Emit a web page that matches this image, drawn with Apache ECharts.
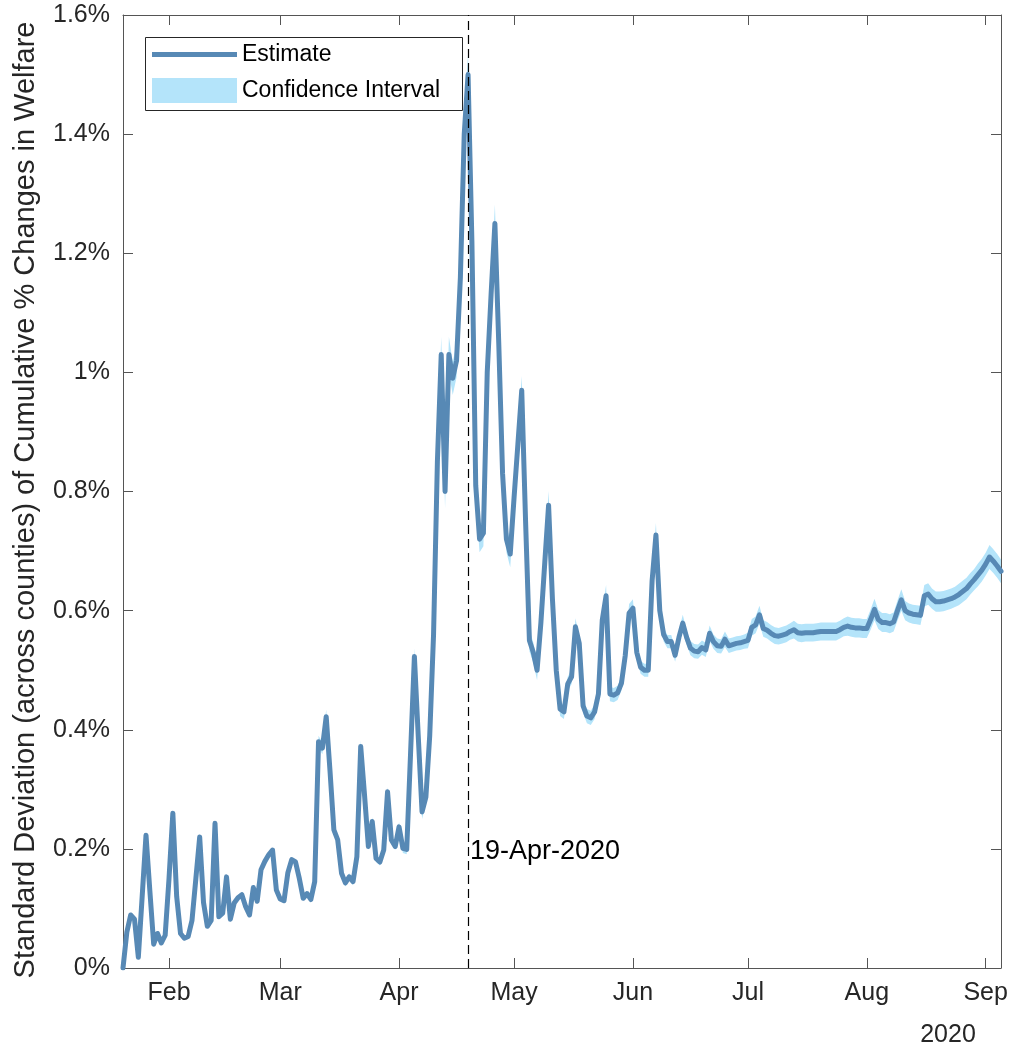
<!DOCTYPE html>
<html>
<head>
<meta charset="utf-8">
<title>Standard deviation of cumulative welfare changes</title>
<script src="https://cdn.jsdelivr.net/npm/echarts@6/dist/echarts.min.js"></script>
<style>
  html, body { margin: 0; padding: 0; background: #ffffff; }
  #chart { width: 1013px; height: 1052px; }
</style>
</head>
<body>
<div id="chart"></div>
<script>
// Daily observations start on this date (one value per day).
const startDate = [2020, 0, 20];

// Standard deviation across counties, in percent (daily, Jan 20 – Sep 5, 2020)
const estimate = [
  0.000, 0.060, 0.089, 0.082, 0.018, 0.120, 0.223, 0.130, 0.040, 0.058,
  0.042, 0.055, 0.150, 0.260, 0.120, 0.058, 0.050, 0.053, 0.080, 0.150,
  0.220, 0.110, 0.070, 0.080, 0.243, 0.086, 0.092, 0.153, 0.082, 0.109,
  0.118, 0.123, 0.103, 0.089, 0.135, 0.112, 0.165, 0.179, 0.190, 0.198,
  0.131, 0.116, 0.113, 0.160, 0.182, 0.178, 0.150, 0.117, 0.125, 0.115,
  0.145, 0.380, 0.369, 0.422, 0.330, 0.232, 0.215, 0.159, 0.143, 0.153,
  0.145, 0.187, 0.372, 0.290, 0.204, 0.246, 0.184, 0.178, 0.198, 0.296,
  0.215, 0.204, 0.237, 0.201, 0.199, 0.360, 0.523, 0.390, 0.262, 0.287,
  0.390, 0.560, 0.850, 1.030, 0.800, 1.030, 0.990, 1.020, 1.160, 1.400,
  1.500, 1.220, 0.810, 0.720, 0.730, 1.000, 1.130, 1.250, 1.050, 0.830,
  0.720, 0.695, 0.790, 0.880, 0.970, 0.750, 0.550, 0.530, 0.500, 0.580,
  0.680, 0.777, 0.620, 0.500, 0.435, 0.430, 0.477, 0.489, 0.573, 0.545,
  0.440, 0.423, 0.420, 0.430, 0.460, 0.584, 0.625, 0.460, 0.458, 0.462,
  0.478, 0.525, 0.596, 0.604, 0.530, 0.505, 0.500, 0.500, 0.650, 0.727,
  0.600, 0.560, 0.548, 0.548, 0.525, 0.555, 0.579, 0.555, 0.537, 0.532,
  0.531, 0.538, 0.534, 0.562, 0.548, 0.541, 0.540, 0.552, 0.541, 0.543,
  0.545, 0.546, 0.548, 0.550, 0.572, 0.576, 0.593, 0.570, 0.567, 0.562,
  0.558, 0.557, 0.559, 0.561, 0.565, 0.568, 0.563, 0.562, 0.563, 0.563,
  0.563, 0.564, 0.565, 0.565, 0.565, 0.565, 0.565, 0.568, 0.572, 0.574,
  0.572, 0.571, 0.571, 0.570, 0.570, 0.585, 0.602, 0.585, 0.580, 0.580,
  0.578, 0.581, 0.600, 0.618, 0.600, 0.596, 0.594, 0.593, 0.592, 0.625,
  0.628, 0.620, 0.615, 0.615, 0.616, 0.618, 0.620, 0.623, 0.627, 0.632,
  0.637, 0.645, 0.652, 0.660, 0.668, 0.678, 0.690, 0.683, 0.675, 0.666
];

// Half-width of the confidence interval, in percentage points (same days)
const ciHalf = [
  0.002, 0.002, 0.002, 0.002, 0.002, 0.002, 0.002, 0.002, 0.002, 0.002,
  0.002, 0.002, 0.003, 0.003, 0.003, 0.003, 0.003, 0.003, 0.003, 0.003,
  0.003, 0.003, 0.003, 0.003, 0.003, 0.003, 0.003, 0.003, 0.003, 0.003,
  0.003, 0.003, 0.003, 0.003, 0.003, 0.003, 0.003, 0.003, 0.003, 0.003,
  0.003, 0.004, 0.004, 0.004, 0.004, 0.004, 0.004, 0.004, 0.004, 0.004,
  0.004, 0.010, 0.010, 0.012, 0.008, 0.006, 0.006, 0.006, 0.006, 0.006,
  0.006, 0.006, 0.010, 0.007, 0.006, 0.007, 0.006, 0.006, 0.006, 0.008,
  0.006, 0.006, 0.008, 0.008, 0.008, 0.010, 0.014, 0.012, 0.012, 0.012,
  0.015, 0.018, 0.022, 0.030, 0.028, 0.030, 0.028, 0.028, 0.030, 0.032,
  0.035, 0.030, 0.025, 0.022, 0.022, 0.025, 0.028, 0.032, 0.028, 0.024,
  0.022, 0.022, 0.020, 0.020, 0.024, 0.020, 0.018, 0.017, 0.017, 0.018,
  0.020, 0.024, 0.018, 0.014, 0.012, 0.012, 0.012, 0.012, 0.014, 0.012,
  0.012, 0.012, 0.012, 0.012, 0.012, 0.016, 0.018, 0.012, 0.012, 0.012,
  0.012, 0.013, 0.015, 0.015, 0.012, 0.011, 0.011, 0.011, 0.016, 0.020,
  0.014, 0.012, 0.011, 0.011, 0.011, 0.012, 0.014, 0.012, 0.012, 0.012,
  0.012, 0.012, 0.012, 0.013, 0.012, 0.012, 0.012, 0.013, 0.012, 0.012,
  0.012, 0.012, 0.012, 0.013, 0.014, 0.014, 0.015, 0.014, 0.014, 0.014,
  0.014, 0.014, 0.014, 0.014, 0.014, 0.015, 0.015, 0.015, 0.015, 0.015,
  0.015, 0.015, 0.015, 0.015, 0.015, 0.015, 0.015, 0.015, 0.015, 0.016,
  0.016, 0.016, 0.016, 0.016, 0.016, 0.017, 0.018, 0.016, 0.016, 0.016,
  0.016, 0.016, 0.017, 0.018, 0.016, 0.016, 0.016, 0.016, 0.016, 0.018,
  0.018, 0.017, 0.017, 0.017, 0.017, 0.017, 0.017, 0.017, 0.018, 0.018,
  0.018, 0.018, 0.018, 0.019, 0.019, 0.019, 0.020, 0.020, 0.020, 0.020
];

// Axis ticks and annotations
const monthNames = ['Jan', 'Feb', 'Mar', 'Apr', 'May', 'Jun', 'Jul', 'Aug', 'Sep', 'Oct', 'Nov', 'Dec'];
const yTicks = { min: 0, max: 1.6, step: 0.2 };
const markerDate = '2020-04-19';
const markerLabel = '19-Apr-2020';
const yearLabel = '2020';
const yTitle = 'Standard Deviation (across counties) of Cumulative % Changes in Welfare';
const seriesNames = ['Estimate', 'Confidence Interval'];

// One ISO date per observation
const dates = estimate.map(function (_, i) {
  const d = new Date(Date.UTC(startDate[0], startDate[1], startDate[2] + i));
  return d.toISOString().slice(0, 10);
});
const ciLower = estimate.map(function (v, i) { return +(v - ciHalf[i]).toFixed(4); });
const ciSpan = ciHalf.map(function (h) { return +(2 * h).toFixed(4); });

const isMonthStart = function (idx, value) { return String(value).slice(8, 10) === '01'; };

const FONT = '"Liberation Sans", Arial, Helvetica, sans-serif';
const AXIS_COLOR = '#555555';
const TEXT_COLOR = '#262626';
const LINE_COLOR = '#5789B5';
const BAND_COLOR = '#B4E4FA';

const chart = echarts.init(document.getElementById('chart'), null, { renderer: 'canvas' });

chart.setOption({
  animation: false,
  backgroundColor: '#ffffff',
  grid: { left: 123, right: 12, top: 15, bottom: 84, containLabel: false },
  xAxis: [
    {
      type: 'category',
      data: dates,
      boundaryGap: false,
      axisLine: { show: true, onZero: false, lineStyle: { color: AXIS_COLOR, width: 1 } },
      axisTick: { show: true, inside: true, length: 10, interval: isMonthStart, lineStyle: { color: AXIS_COLOR } },
      axisLabel: {
        interval: isMonthStart,
        margin: 13,
        color: TEXT_COLOR,
        fontFamily: FONT,
        fontSize: 25,
        formatter: function (v) { return monthNames[parseInt(v.slice(5, 7), 10) - 1]; }
      },
      splitLine: { show: false }
    },
    {
      type: 'category',
      position: 'top',
      data: dates,
      boundaryGap: false,
      axisLine: { show: true, onZero: false, lineStyle: { color: AXIS_COLOR, width: 1 } },
      axisTick: { show: true, inside: true, length: 10, interval: isMonthStart, lineStyle: { color: AXIS_COLOR } },
      axisLabel: { show: false },
      splitLine: { show: false }
    }
  ],
  yAxis: [
    {
      type: 'value',
      min: yTicks.min,
      max: yTicks.max,
      interval: yTicks.step,
      axisLine: { show: true, onZero: false, lineStyle: { color: AXIS_COLOR, width: 1 } },
      axisTick: { show: true, inside: true, length: 10, lineStyle: { color: AXIS_COLOR } },
      axisLabel: {
        margin: 13,
        color: TEXT_COLOR,
        fontFamily: FONT,
        fontSize: 25,
        formatter: function (v) { return parseFloat(v.toFixed(1)) + '%'; }
      },
      splitLine: { show: false }
    },
    {
      type: 'value',
      position: 'right',
      min: yTicks.min,
      max: yTicks.max,
      interval: yTicks.step,
      axisLine: { show: true, onZero: false, lineStyle: { color: AXIS_COLOR, width: 1 } },
      axisTick: { show: true, inside: true, length: 10, lineStyle: { color: AXIS_COLOR } },
      axisLabel: { show: false },
      splitLine: { show: false }
    }
  ],
  legend: [
    {
      data: [{ name: seriesNames[0], icon: 'rect', itemStyle: { color: LINE_COLOR } }],
      left: 152, top: 43, padding: 0, z: 6,
      itemWidth: 85, itemHeight: 5,
      selectedMode: false,
      textStyle: { color: '#000000', fontFamily: FONT, fontSize: 23 }
    },
    {
      data: [{ name: seriesNames[1], icon: 'rect', itemStyle: { color: BAND_COLOR } }],
      left: 152, top: 78, padding: 0, z: 6,
      itemWidth: 85, itemHeight: 25,
      selectedMode: false,
      textStyle: { color: '#000000', fontFamily: FONT, fontSize: 23 }
    }
  ],
  graphic: [
    {
      type: 'rect', z: 3, silent: true,
      shape: { x: 145.5, y: 37.5, width: 317, height: 73 },
      style: { fill: '#ffffff', stroke: '#262626', lineWidth: 1 }
    },
    {
      type: 'text', z: 5, silent: true,
      x: 470, y: 852,
      style: { text: markerLabel, fill: '#000000', font: '27px ' + FONT, textAlign: 'left', textVerticalAlign: 'middle' }
    },
    {
      type: 'text', z: 5, silent: true,
      x: 948, y: 1035,
      style: { text: yearLabel, fill: TEXT_COLOR, font: '25px ' + FONT, textAlign: 'center', textVerticalAlign: 'middle' }
    },
    {
      type: 'text', z: 5, silent: true,
      x: 26, y: 500, rotation: Math.PI / 2,
      style: { text: yTitle, fill: TEXT_COLOR, font: '29px ' + FONT, textAlign: 'center', textVerticalAlign: 'middle' }
    }
  ],
  series: [
    {
      name: 'ciLower',
      type: 'line',
      data: ciLower,
      stack: 'ci',
      symbol: 'none',
      silent: true,
      lineStyle: { width: 0, opacity: 0 },
      z: 1
    },
    {
      name: seriesNames[1],
      type: 'line',
      data: ciSpan,
      stack: 'ci',
      symbol: 'none',
      silent: true,
      lineStyle: { width: 0, opacity: 0 },
      itemStyle: { color: BAND_COLOR },
      areaStyle: { color: BAND_COLOR, opacity: 1 },
      z: 1
    },
    {
      name: seriesNames[0],
      type: 'line',
      data: estimate,
      symbol: 'none',
      silent: true,
      itemStyle: { color: LINE_COLOR },
      lineStyle: { color: LINE_COLOR, width: 5, join: 'round', cap: 'round' },
      z: 2,
      markLine: {
        silent: true,
        symbol: 'none',
        label: { show: false },
        lineStyle: { color: '#000000', width: 1.2, type: [9, 5] },
        data: [{ xAxis: markerDate }]
      }
    }
  ]
});
</script>
</body>
</html>
